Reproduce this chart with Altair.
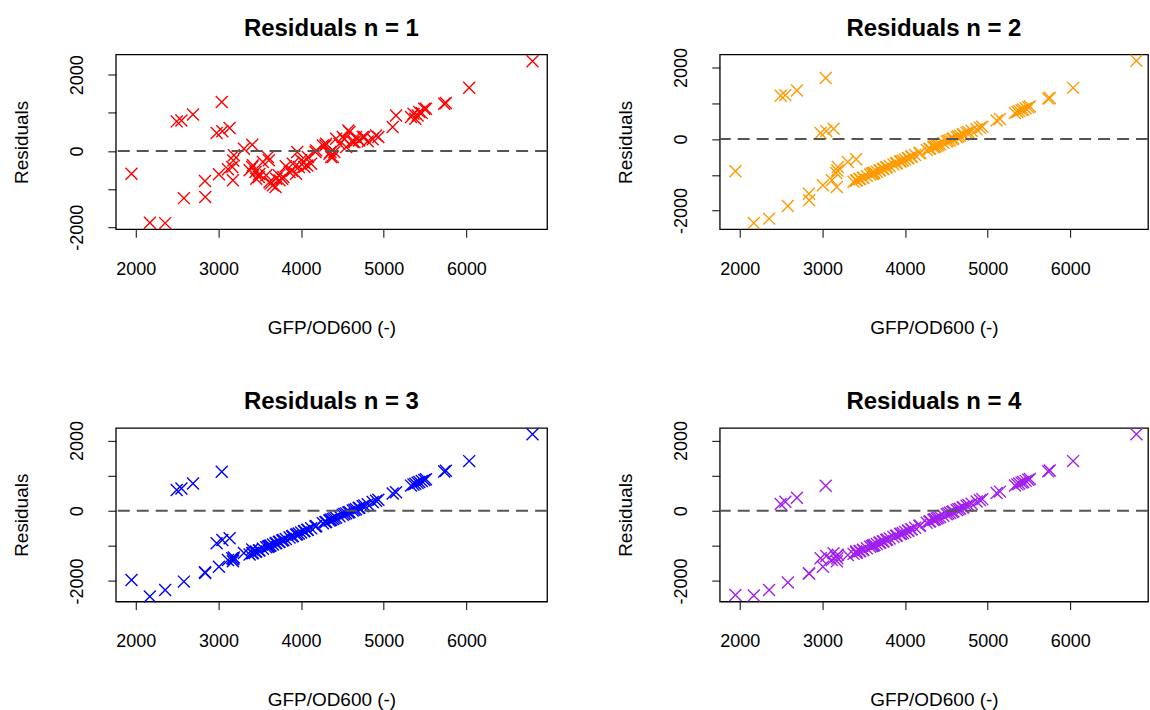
import altair as alt
import pandas as pd

# shared x values (GFP/OD600)
gfp = [
    1948, 2170, 2355, 2495, 2552, 2582, 2692, 2837, 2840, 2978, 3006, 3040, 3047,
    3115, 3135, 3167, 3175, 3187, 3180, 3308, 3409,
    3377, 3409, 3417, 3449, 3457, 3490, 3495, 3538, 3578, 3598, 3610, 3618, 3630,
    3659, 3691, 3699, 3731, 3739, 3772, 3785, 3815, 3860, 3890, 3900, 3940, 3953,
    3973, 4001, 4035, 4041, 4075, 4081, 4122, 4174, 4183, 4263, 4295, 4303, 4343,
    4355, 4363, 4384, 4403, 4424, 4464, 4504, 4524, 4545, 4572, 4585, 4625, 4645,
    4665, 4697, 4705, 4745, 4766, 4806, 4866, 4907, 4935,
    5108, 5149, 5330, 5360, 5382, 5410, 5430, 5460, 5491, 5511, 5732, 5752, 6034, 6800,
]

res_n1 = [
    -594, -1880, -1890, 777, 803, -1235, 960, -785, -1204, 471, -610, 1283, 516,
    -480, 602, -419, -767, -113, -250, 60, 165,
    -506, -419, -375, -550, -724, -681, -600, -288, -637, -157, -244, -812, -855,
    -899, -942, -724, -637, -768, -724, -680, -400, -550, -520, -332, -594, -26,
    -419, -244, -300, -419, -380, -157, -332, -26, 17, 148, 148, 192, -70,
    -26, -157, -157, -26, 323, 192, 366, 306, 105, 541, 497, 236, 236,
    366, 279, 279, 366, 366, 253, 306, 410, 366,
    628, 934, 890, 977, 846, 930, 1021, 1000, 1108, 1108, 1239, 1257, 1658, 2356,
]

res_n2 = [
    -902, -2346, -2226, 1210, 1230, -1872, 1360, -1527, -1712, 168, -1293, 1712, 223,
    -1154, 288, -950, -1341, -782, -880, -642, -567,
    -1193, -1161, -1153, -1121, -1113, -1080, -1075, -1032, -992, -972, -960, -952, -940,
    -911, -879, -871, -839, -831, -798, -785, -755, -710, -680, -670, -630, -617,
    -597, -569, -535, -529, -495, -489, -448, -396, -387, -307, -275, -267, -227,
    -215, -207, -186, -167, -146, -106, -66, -46, -25, 2, 15, 55, 75,
    95, 127, 135, 175, 196, 236, 276, 317, 345,
    522, 559, 730, 760, 782, 810, 830, 860, 891, 911, 1138, 1150, 1433, 2190,
]

res_n3 = [
    -1970, -2443, -2254, 588, 634, -2017, 776, -1752, -1770, -928, -1591, 1108, -833,
    -1402, -786, -1354, -1440, -1330, -1380, -1200, -1100,
    -1243, -1211, -1203, -1171, -1163, -1130, -1125, -1082, -1042, -1022, -1010, -1002, -990,
    -961, -929, -921, -889, -881, -848, -835, -805, -760, -730, -720, -680, -667,
    -647, -619, -585, -579, -545, -539, -498, -446, -437, -357, -325, -317, -277,
    -265, -257, -236, -217, -196, -156, -116, -96, -75, -48, -35, 5, 25,
    45, 77, 85, 125, 146, 186, 246, 287, 315,
    488, 529, 715, 745, 767, 795, 815, 845, 876, 896, 1117, 1137, 1412, 2179,
]

res_n4 = [
    -2395, -2415, -2254, 190, 256, -2045, 369, -1780, -1790, -1354, -1591, 710, -1290,
    -1400, -1212, -1300, -1440, -1250, -1350, -1259, -1150,
    -1228, -1196, -1188, -1156, -1148, -1115, -1110, -1067, -1027, -1007, -995, -987, -975,
    -946, -914, -906, -874, -866, -833, -820, -790, -745, -715, -705, -665, -652,
    -632, -604, -570, -564, -530, -524, -483, -431, -422, -342, -310, -302, -262,
    -250, -242, -221, -202, -181, -141, -101, -81, -60, -33, -20, 20, 40,
    60, 92, 100, 140, 161, 201, 261, 302, 330,
    503, 544, 720, 750, 772, 800, 820, 850, 881, 901, 1122, 1142, 1412, 2179,
]

residuals = [res_n1, res_n2, res_n3, res_n4]
titles = ["Residuals n = 1", "Residuals n = 2", "Residuals n = 3", "Residuals n = 4"]
colors = ["#FF0000", "#FF9A00", "#0000FF", "#A020F0"]
x_ticks = [2000, 3000, 4000, 5000, 6000]
y_ticks = [-2000, -1000, 0, 1000, 2000]
x_domains = [[1758, 6976], [1758, 6940], [1758, 6976], [1758, 6940]]
y_domains = [[-2050, 2530], [-2522, 2366], [-2585, 2358], [-2585, 2358]]
widths = [432, 429, 432, 429]
heights = [175, 175, 174, 174]

XMARK = "M-1,-1L1,1M-1,1L1,-1"


def panel(i):
    df = pd.DataFrame({"x": gfp, "r": residuals[i]})
    pts = alt.Chart(df).mark_point(
        shape=XMARK, filled=False, size=144, strokeWidth=1.4, color=colors[i], opacity=1
    ).encode(
        x=alt.X(
            "x:Q",
            scale=alt.Scale(domain=x_domains[i], nice=False, zero=False),
            axis=alt.Axis(
                values=x_ticks,
                labelExpr="toString(datum.value)",
                title="GFP/OD600 (-)",
                labelPadding=23,
                titlePadding=40,
            ),
        ),
        y=alt.Y(
            "r:Q",
            scale=alt.Scale(domain=y_domains[i], nice=False, zero=False),
            axis=alt.Axis(
                values=y_ticks,
                labelExpr="datum.value % 2000 == 0 ? toString(datum.value) : ''",
                title="Residuals",
                labelAngle=270,
                labelAlign="center",
                labelBaseline="bottom",
                labelPadding=21,
                titlePadding=37,
            ),
        ),
    )
    zero = alt.Chart(pd.DataFrame({"r": [0]})).mark_rule(
        strokeDash=[12, 7], color="#555555", strokeWidth=2
    ).encode(y=alt.Y("r:Q", title="Residuals"))
    head = alt.Chart(pd.DataFrame({"t": [titles[i]]})).mark_text(
        font="Liberation Sans", fontSize=24, fontWeight="bold", color="black",
        align="center", baseline="alphabetic",
    ).encode(
        text="t:N",
        x=alt.value(widths[i] / 2),
        y=alt.value(-19),
    )
    return alt.layer(pts, zero, head).properties(width=widths[i], height=heights[i])


chart = alt.concat(
    panel(0), panel(1), panel(2), panel(3),
    columns=2,
    spacing={"row": 199, "column": 173},
    bounds="flush",
).properties(
    padding={"left": 12, "top": 15, "right": 0, "bottom": 0},
    background="white",
).configure_axis(
    grid=False,
    domain=False,
    tickSize=8,
    tickColor="black",
    tickWidth=1,
    labelFont="Liberation Sans",
    labelFontSize=18,
    labelColor="black",
    titleFont="Liberation Sans",
    titleFontSize=19,
    titleFontWeight="normal",
    titleColor="black",
).configure_view(
    stroke="black", strokeWidth=1.3
)

chart.save("out.html", embed_options={"renderer": "svg", "actions": False})
